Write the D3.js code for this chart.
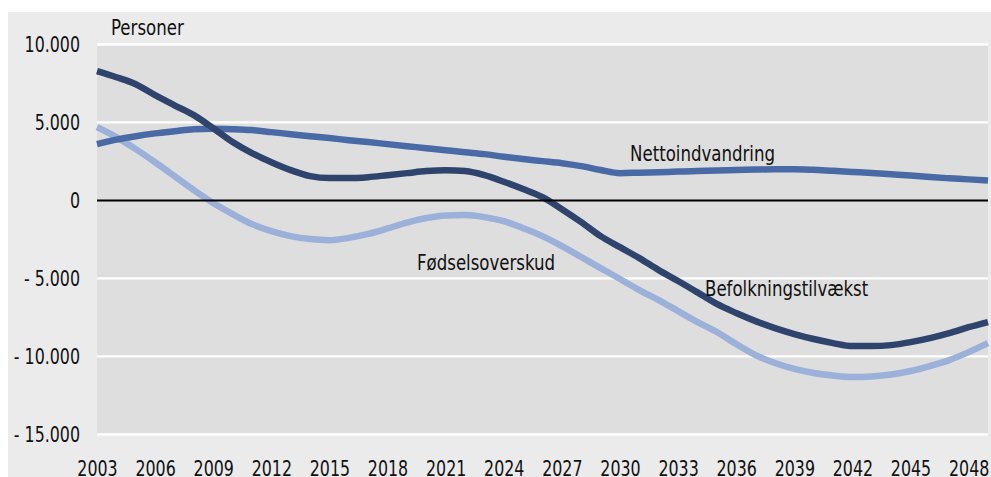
<!DOCTYPE html>
<html>
<head>
<meta charset="utf-8">
<script src="https://cdn.jsdelivr.net/npm/d3@7"></script>
<style>
  body { margin: 0; background: #fff; }
  svg text { font-family: "Liberation Sans Narrow", "DejaVu Sans Condensed", Lato, sans-serif; fill: #111; }
</style>
</head>
<body>
<svg width="991" height="477"></svg>
<script>
// aar 2003-2049
var years = d3.range(2003, 2050);
var yTicks = [10000, 5000, 0, -5000, -10000, -15000];
var xTicks = d3.range(2003, 2049, 3);

var befolkningstilvaekst = [8290, 7900, 7450, 6750, 6100, 5470, 4630, 3740, 3030, 2450, 1940,
  1560, 1430, 1430, 1490, 1620, 1750, 1880, 1940, 1880, 1620, 1200, 730, 210, -560, -1390,
  -2290, -3000, -3700, -4470, -5170, -5900, -6640, -7220, -7740, -8190, -8570, -8890, -9150,
  -9340, -9340, -9280, -9090, -8830, -8510, -8130, -7800];
var nettoindvandring = [3610, 3900, 4120, 4300, 4440, 4570, 4600, 4570, 4510, 4380, 4250,
  4120, 4000, 3860, 3740, 3610, 3480, 3350, 3220, 3090, 2970, 2800, 2650, 2520, 2390, 2200,
  1950, 1750, 1780, 1810, 1850, 1880, 1920, 1950, 1980, 2000, 2000, 1960, 1900, 1830, 1760,
  1680, 1600, 1500, 1420, 1350, 1270];
var foedselsoverskud = [4700, 4060, 3290, 2450, 1560, 660, -170, -880, -1520, -1970,
  -2290, -2480, -2550, -2400, -2150, -1800, -1420, -1130, -960, -940,
  -1070, -1330, -1780, -2290, -2930, -3630, -4340, -5040, -5750, -6390,
  -7100, -7800, -8440, -9210, -9920, -10430, -10810, -11070, -11230, -11330,
  -11290, -11170, -10940, -10620, -10240, -9730, -9150];

(function () {
  var series = [
    { name: "Fødselsoverskud", values: foedselsoverskud, color: "#9cb1d9", lx: 417, ly: 270 },
    { name: "Nettoindvandring", values: nettoindvandring, color: "#4a6aa6", lx: 630, ly: 161 },
    { name: "Befolkningstilvækst", values: befolkningstilvaekst, color: "#2e446d", lx: 705, ly: 296 }
  ];

  var svg = d3.select("svg");
  var plotLeft = 97, plotRight = 988, plotTop = 44.5, plotBottom = 434.3;

  // smal skrift: klem teksten vandret om dens ankerpunkt
  function squeeze(sel, k) {
    sel.attr("transform", function () {
      var tx = +d3.select(this).attr("x") || 0;
      return "translate(" + tx + ",0) scale(" + k + ",1) translate(" + (-tx) + ",0)";
    });
  }

  svg.append("rect").attr("x", 8).attr("y", 12).attr("width", 983).attr("height", 465)
    .attr("fill", "#ebebeb");
  svg.append("rect").attr("x", plotLeft).attr("y", plotTop)
    .attr("width", plotRight - plotLeft).attr("height", plotBottom - plotTop)
    .attr("fill", "#dedede");

  var x = d3.scaleLinear().domain([2003, 2049]).range([plotLeft, plotRight]);
  var y = d3.scaleLinear().domain([-15000, 10000]).range([plotBottom, plotTop]);

  var fmt = function (d) {
    if (d === 0) return "0";
    var s = d3.format(",")(Math.abs(d)).replace(/,/g, ".");
    return d < 0 ? "- " + s : s;
  };

  // gitterlinjer
  svg.append("g").selectAll("line").data(yTicks.filter(function (d) { return d !== 0; }))
    .enter().append("line")
    .attr("x1", plotLeft).attr("x2", plotRight)
    .attr("y1", function (d) { return y(d); }).attr("y2", function (d) { return y(d); })
    .attr("stroke", "#fff").attr("stroke-width", 2.3);

  var yAxis = svg.append("g")
    .attr("transform", "translate(" + plotLeft + ",0)")
    .call(d3.axisLeft(y).tickValues(yTicks).tickFormat(fmt).tickSize(0).tickPadding(17));
  yAxis.select(".domain").remove();
  yAxis.selectAll("text").style("font-size", "20.5px").attr("dy", "0.36em").call(squeeze, 0.86);

  var xAxis = svg.append("g")
    .attr("transform", "translate(0," + plotBottom + ")")
    .call(d3.axisBottom(x).tickValues(xTicks).tickFormat(d3.format("d")).tickSize(0).tickPadding(0));
  xAxis.select(".domain").remove();
  xAxis.selectAll("text").style("font-size", "20.5px").attr("dy", null).attr("y", 41.5)
    .call(squeeze, 0.86);

  var line = d3.line()
    .x(function (d, i) { return x(years[i]); })
    .y(function (d) { return y(d); })
    .curve(d3.curveMonotoneX);

  svg.append("g").selectAll("path").data(series).enter().append("path")
    .attr("d", function (s) { return line(s.values); })
    .attr("fill", "none")
    .attr("stroke", function (s) { return s.color; })
    .attr("stroke-width", 6.5);

  // nullinje
  svg.append("line").attr("x1", plotLeft).attr("x2", plotRight)
    .attr("y1", y(0)).attr("y2", y(0))
    .attr("stroke", "#000").attr("stroke-width", 2);

  svg.append("g").selectAll("text").data(series).enter().append("text")
    .attr("x", function (s) { return s.lx; })
    .attr("y", function (s) { return s.ly; })
    .style("font-size", "20.5px")
    .text(function (s) { return s.name; })
    .call(squeeze, 0.9);

  svg.append("text").attr("x", 111).attr("y", 35).style("font-size", "20.5px").text("Personer")
    .call(squeeze, 0.9);
})();
</script>
</body>
</html>
